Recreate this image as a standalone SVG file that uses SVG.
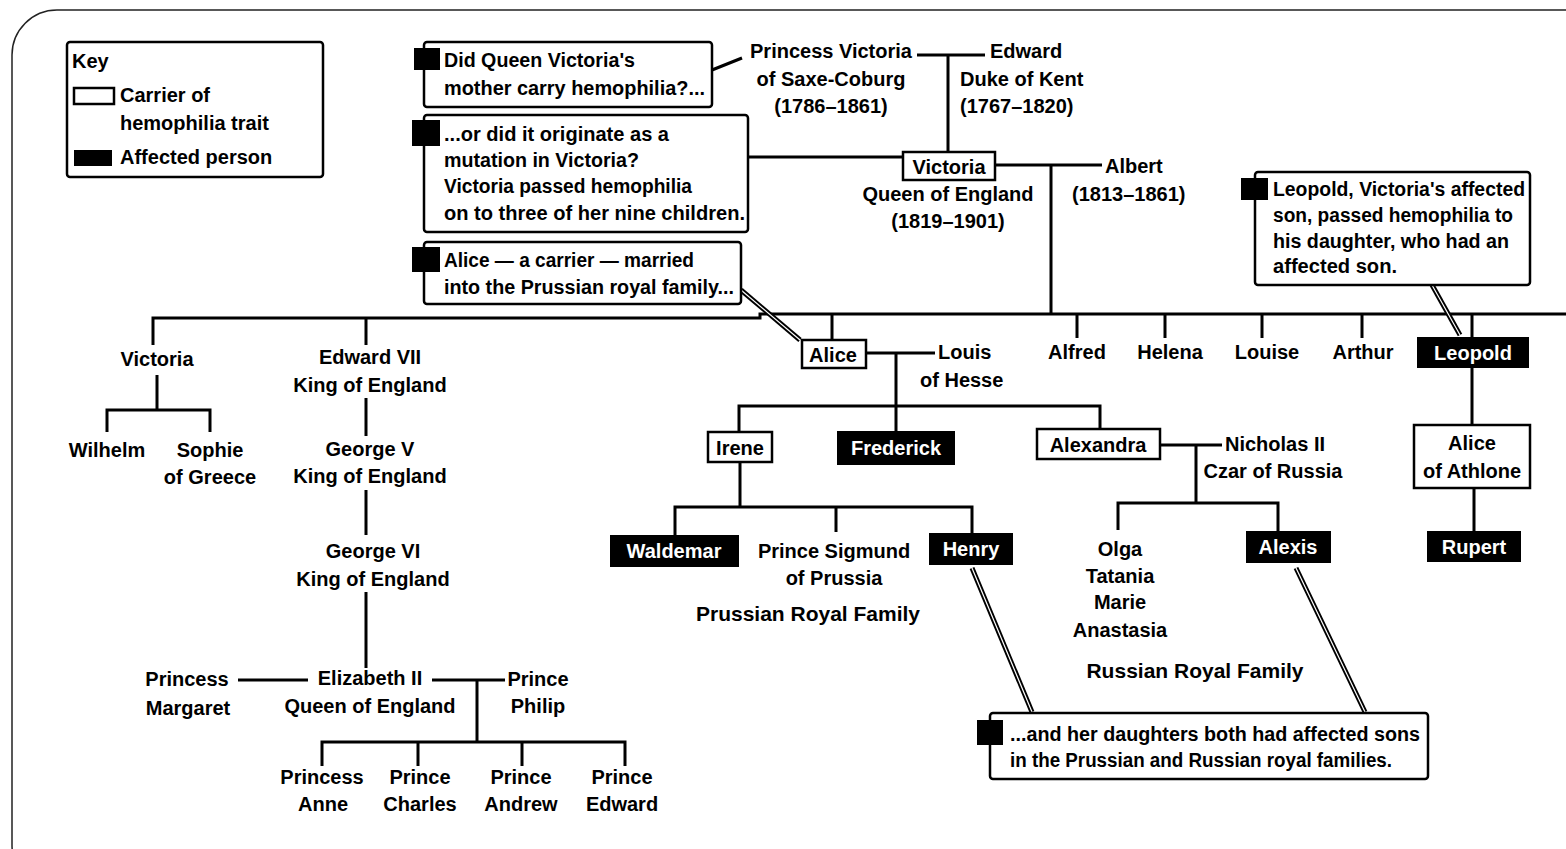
<svg xmlns="http://www.w3.org/2000/svg" width="1566" height="849" viewBox="0 0 1566 849">
<style>
text{font-family:"Liberation Sans Narrow","Liberation Sans",Arial,sans-serif;font-weight:bold;font-size:20px;fill:#000}
.c{text-anchor:middle}
.w{fill:#fff;text-anchor:middle}
.t{font-size:21px;font-weight:900}
.box{fill:#fff;stroke:#000;stroke-width:2.5}
.aff{fill:#000;stroke:#000;stroke-width:2}
.call{fill:#fff;stroke:#000;stroke-width:2.5}
.mk{fill:#000}
.ln{stroke:#000;stroke-width:3;fill:none}
.pt{stroke:#000;stroke-width:5;fill:none}
.pti{stroke:#fff;stroke-width:1.2;fill:none}
</style>
<rect x="0" y="0" width="1566" height="849" fill="#fff"/>
<rect x="12" y="10" width="1620" height="880" rx="45" fill="none" stroke="#222" stroke-width="1.5"/>

<g id="connectors">
<!-- Princess Victoria - Edward -->
<path class="ln" d="M917 55 H985 M948 55 V153"/>
<!-- Victoria - Albert -->
<path class="ln" d="M995 165 H1102 M1051 165 V314"/>
<!-- sibling line -->
<path class="ln" d="M153 345 V318 H760 V314 H1566"/>
<path class="ln" d="M366 318 V345 M832 314 V340 M1077 314 V338 M1165 314 V338 M1262 314 V338 M1362 314 V338 M1472 314 V338"/>
<!-- Victoria children -->
<path class="ln" d="M157 375 V410 M107 432 V410 H210 V432"/>
<!-- British line -->
<path class="ln" d="M366 398 V436 M366 490 V535 M366 592 V668"/>
<path class="ln" d="M238 680 H308 M432 680 H505 M477 680 V742 M322 766 V742 H625 V766 M418 742 V766 M522 742 V766"/>
<!-- Alice - Louis -->
<path class="ln" d="M866 353 H935 M896 353 V433 M739 432 V406 H1100 V430"/>
<!-- Alexandra - Nicholas -->
<path class="ln" d="M1160 445 H1222 M1196 445 V503 M1118 530 V503 H1278 V533"/>
<!-- Irene children -->
<path class="ln" d="M740 462 V507 M675 535 V507 H972 V535 M836 507 V532"/>
<!-- Leopold line -->
<path class="ln" d="M1472 367 V425 M1474 488 V532"/>
<!-- callout pointers -->
<path class="ln" d="M712 70 L742 58"/>
<path class="ln" d="M748 157 H903"/>
<path class="pt" d="M741 290 L800 340"/>
<path class="pti" d="M741 290 L800 340"/>
<path class="pt" d="M1432 285 L1460 335"/>
<path class="pti" d="M1432 285 L1460 335"/>
<path class="pt" d="M972 568 L1032 712"/>
<path class="pti" d="M972 568 L1032 712"/>
<path class="pt" d="M1296 568 L1365 712"/>
<path class="pti" d="M1296 568 L1365 712"/>
</g>

<g id="key">
<rect class="call" x="67" y="42" width="256" height="135" rx="3"/>
<text x="72" y="68">Key</text>
<rect class="box" x="74" y="88" width="40" height="16"/>
<text x="120" y="102">Carrier of</text>
<text x="120" y="130">hemophilia trait</text>
<rect class="mk" x="74" y="150" width="38" height="16"/>
<text x="120" y="164">Affected person</text>
</g>

<g id="callout1">
<rect class="call" x="424" y="42" width="288" height="65" rx="3"/>
<rect class="mk" x="414" y="48" width="26" height="22"/>
<text x="444" y="67" textLength="191" lengthAdjust="spacingAndGlyphs">Did Queen Victoria's</text>
<text x="444" y="95" textLength="261" lengthAdjust="spacingAndGlyphs">mother carry hemophilia?...</text>
</g>

<g id="callout2">
<rect class="call" x="424" y="115" width="324" height="117" rx="3"/>
<rect class="mk" x="412" y="120" width="28" height="26"/>
<text x="444" y="141" textLength="225" lengthAdjust="spacingAndGlyphs">...or did it originate as a</text>
<text x="444" y="167" textLength="195" lengthAdjust="spacingAndGlyphs">mutation in Victoria?</text>
<text x="444" y="193" textLength="248" lengthAdjust="spacingAndGlyphs">Victoria passed hemophilia</text>
<text x="444" y="220" textLength="301" lengthAdjust="spacingAndGlyphs">on to three of her nine children.</text>
</g>

<g id="callout3">
<rect class="call" x="424" y="242" width="317" height="62" rx="3"/>
<rect class="mk" x="412" y="247" width="28" height="25"/>
<text x="444" y="267" textLength="250" lengthAdjust="spacingAndGlyphs">Alice — a carrier — married</text>
<text x="444" y="294" textLength="290" lengthAdjust="spacingAndGlyphs">into the Prussian royal family...</text>
</g>

<g id="callout4">
<rect class="call" x="1255" y="172" width="275" height="113" rx="3"/>
<rect class="mk" x="1241" y="178" width="27" height="22"/>
<text x="1273" y="196" textLength="252" lengthAdjust="spacingAndGlyphs">Leopold, Victoria's affected</text>
<text x="1273" y="222" textLength="240" lengthAdjust="spacingAndGlyphs">son, passed hemophilia to</text>
<text x="1273" y="248" textLength="236" lengthAdjust="spacingAndGlyphs">his daughter, who had an</text>
<text x="1273" y="273" textLength="124" lengthAdjust="spacingAndGlyphs">affected son.</text>
</g>

<g id="callout5">
<rect class="call" x="990" y="713" width="438" height="66" rx="3"/>
<rect class="mk" x="977" y="720" width="26" height="25"/>
<text x="1010" y="741" textLength="410" lengthAdjust="spacingAndGlyphs">...and her daughters both had affected sons</text>
<text x="1010" y="767" textLength="382" lengthAdjust="spacingAndGlyphs">in the Prussian and Russian royal families.</text>
</g>

<g id="princess-victoria">
<text class="c" x="831" y="58">Princess Victoria</text>
<text class="c" x="831" y="86">of Saxe-Coburg</text>
<text class="c" x="831" y="113">(1786–1861)</text>
</g>
<g id="edward-kent">
<text x="990" y="58">Edward</text>
<text x="960" y="86">Duke of Kent</text>
<text x="960" y="113">(1767–1820)</text>
</g>
<g id="victoria-queen">
<rect class="box" x="903" y="152" width="92" height="28"/>
<text class="c" x="949" y="174">Victoria</text>
<text class="c" x="948" y="201">Queen of England</text>
<text class="c" x="948" y="228">(1819–1901)</text>
</g>
<g id="albert">
<text x="1105" y="173">Albert</text>
<text x="1072" y="201">(1813–1861)</text>
</g>

<g id="victoria-princess"><text class="c" x="157" y="366">Victoria</text></g>
<g id="edward-vii"><text class="c" x="370" y="364">Edward VII</text><text class="c" x="370" y="392">King of England</text></g>
<g id="alice"><rect class="box" x="802" y="340" width="64" height="28"/><text class="c" x="833" y="362">Alice</text></g>
<g id="louis"><text x="938" y="359">Louis</text><text x="920" y="387">of Hesse</text></g>
<g id="alfred"><text class="c" x="1077" y="359">Alfred</text></g>
<g id="helena"><text class="c" x="1170" y="359">Helena</text></g>
<g id="louise"><text class="c" x="1267" y="359">Louise</text></g>
<g id="arthur"><text class="c" x="1363" y="359">Arthur</text></g>
<g id="leopold"><rect class="aff" x="1418" y="338" width="110" height="29"/><text class="w" x="1473" y="360">Leopold</text></g>

<g id="wilhelm"><text class="c" x="107" y="457">Wilhelm</text></g>
<g id="sophie"><text class="c" x="210" y="457">Sophie</text><text class="c" x="210" y="484">of Greece</text></g>
<g id="george-v"><text class="c" x="370" y="456">George V</text><text class="c" x="370" y="483">King of England</text></g>
<g id="george-vi"><text class="c" x="373" y="558">George VI</text><text class="c" x="373" y="586">King of England</text></g>
<g id="margaret"><text class="c" x="187" y="686">Princess</text><text class="c" x="188" y="715">Margaret</text></g>
<g id="elizabeth"><text class="c" x="370" y="685">Elizabeth II</text><text class="c" x="370" y="713">Queen of England</text></g>
<g id="philip"><text class="c" x="538" y="686">Prince</text><text class="c" x="538" y="713">Philip</text></g>
<g id="anne"><text class="c" x="322" y="784">Princess</text><text class="c" x="323" y="811">Anne</text></g>
<g id="charles"><text class="c" x="420" y="784">Prince</text><text class="c" x="420" y="811">Charles</text></g>
<g id="andrew"><text class="c" x="521" y="784">Prince</text><text class="c" x="521" y="811">Andrew</text></g>
<g id="edward"><text class="c" x="622" y="784">Prince</text><text class="c" x="622" y="811">Edward</text></g>

<g id="irene"><rect class="box" x="708" y="432" width="64" height="30"/><text class="c" x="740" y="455">Irene</text></g>
<g id="frederick"><rect class="aff" x="838" y="432" width="116" height="32"/><text class="w" x="896" y="455">Frederick</text></g>
<g id="alexandra"><rect class="box" x="1037" y="429" width="123" height="30"/><text class="c" x="1098" y="452">Alexandra</text></g>
<g id="nicholas"><text x="1225" y="451">Nicholas II</text><text class="c" x="1273" y="478">Czar of Russia</text></g>
<g id="daughters"><text class="c" x="1120" y="556">Olga</text><text class="c" x="1120" y="583">Tatania</text><text class="c" x="1120" y="609">Marie</text><text class="c" x="1120" y="637">Anastasia</text></g>
<g id="alexis"><rect class="aff" x="1247" y="532" width="83" height="30"/><text class="w" x="1288" y="554">Alexis</text></g>
<g id="russian-label"><text class="c t" x="1195" y="678">Russian Royal Family</text></g>

<g id="waldemar"><rect class="aff" x="611" y="536" width="127" height="30"/><text class="w" x="674" y="558">Waldemar</text></g>
<g id="sigmund"><text class="c" x="834" y="558">Prince Sigmund</text><text class="c" x="834" y="585">of Prussia</text></g>
<g id="henry"><rect class="aff" x="930" y="534" width="82" height="30"/><text class="w" x="971" y="556">Henry</text></g>
<g id="prussian-label"><text class="c t" x="808" y="621">Prussian Royal Family</text></g>

<g id="alice-athlone"><rect class="box" x="1414" y="425" width="116" height="63"/><text class="c" x="1472" y="450">Alice</text><text class="c" x="1472" y="478">of Athlone</text></g>
<g id="rupert"><rect class="aff" x="1428" y="532" width="92" height="29"/><text class="w" x="1474" y="554">Rupert</text></g>
</svg>
